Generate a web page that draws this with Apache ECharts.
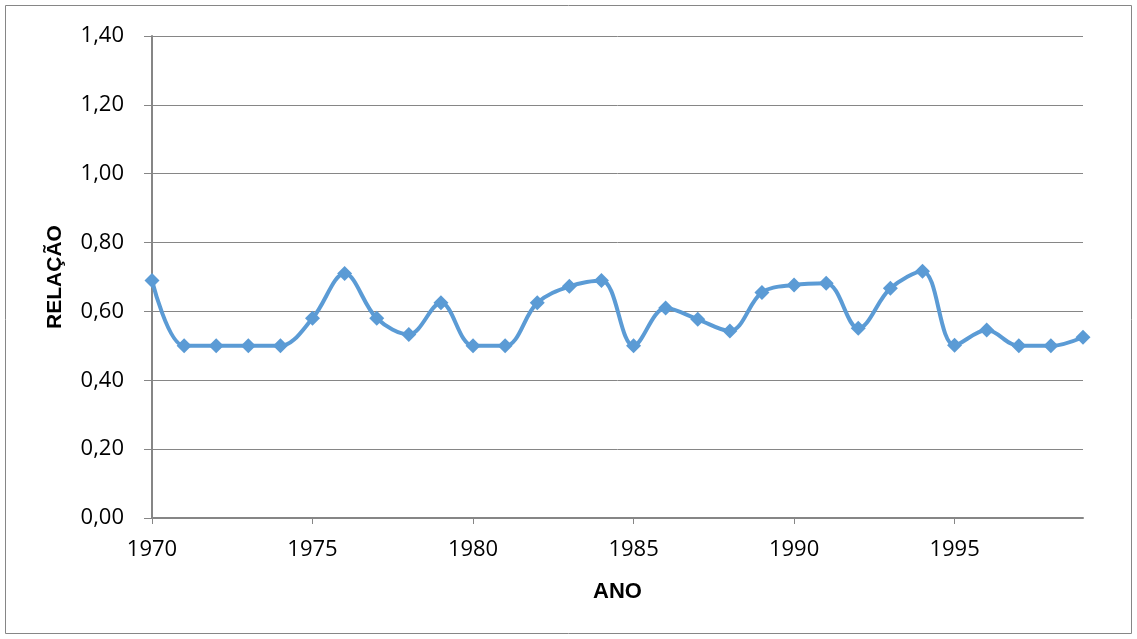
<!DOCTYPE html>
<html>
<head>
<meta charset="utf-8">
<script src="https://cdn.jsdelivr.net/npm/echarts@6/dist/echarts.min.js"></script>
<style>html,body{margin:0;padding:0;background:#fff}#c{width:1137px;height:639px}</style>
</head>
<body>
<div id="c"></div>
<script>
const years = [1970,1971,1972,1973,1974,1975,1976,1977,1978,1979,1980,1981,1982,1983,1984,1985,1986,1987,1988,1989,1990,1991,1992,1993,1994,1995,1996,1997,1998,1999];
const relacao = [0.69,0.50,0.50,0.50,0.50,0.58,0.71,0.58,0.533,0.625,0.50,0.50,0.625,0.673,0.69,0.50,0.61,0.577,0.543,0.655,0.677,0.682,0.551,0.667,0.717,0.502,0.546,0.50,0.50,0.525];
const xTicks = [1970,1975,1980,1985,1990,1995];
const yTitle = 'RELAÇÃO';
const xTitle = 'ANO';

const chart = echarts.init(document.getElementById('c'), null, {renderer:'canvas'});
const font = '"Open Sans", "Liberation Sans", sans-serif';
const boldFont = '"Liberation Sans", Arial, sans-serif';
chart.setOption({
  animation:false,
  backgroundColor:'#fff',
  graphic:[{type:'rect', shape:{x:5.5,y:5.5,width:1126,height:628}, style:{fill:'none', stroke:'#868686', lineWidth:1}}],
  grid:{left:152,right:54,top:36,bottom:121},
  xAxis:{
    type:'value', min:1970, max:1999, interval:5,
    name:xTitle, nameLocation:'middle', nameGap:63,
    nameTextStyle:{fontFamily:boldFont, fontWeight:'bold', fontSize:22, color:'#000'},
    axisLine:{lineStyle:{color:'#868686', width:2}},
    axisTick:{show:true, length:6, lineStyle:{color:'#868686'}, customValues:xTicks},
    axisLabel:{fontFamily:font, fontSize:22, color:'#000', margin:21, customValues:xTicks, formatter:v=>String(v)},
    splitLine:{show:false}
  },
  yAxis:{
    type:'value', min:0, max:1.4, interval:0.2,
    name:yTitle, nameLocation:'middle', nameGap:86, nameRotate:90,
    nameTextStyle:{fontFamily:boldFont, fontWeight:'bold', fontSize:21, color:'#000'},
    axisLine:{show:true, lineStyle:{color:'#868686', width:2}},
    axisTick:{show:true, length:8, lineStyle:{color:'#868686'}},
    axisLabel:{fontFamily:font, fontSize:22, color:'#000', margin:28, formatter:v=>v.toFixed(2).replace('.',',')},
    splitLine:{show:true, lineStyle:{color:'#868686', width:1}}
  },
  series:[{
    type:'line', smooth:0.35,
    data:years.map((y,i)=>[y,relacao[i]]),
    symbol:'diamond', symbolSize:15,
    lineStyle:{color:'#5B9BD5', width:4},
    itemStyle:{color:'#5B9BD5'}
  }]
});
</script>
</body>
</html>
